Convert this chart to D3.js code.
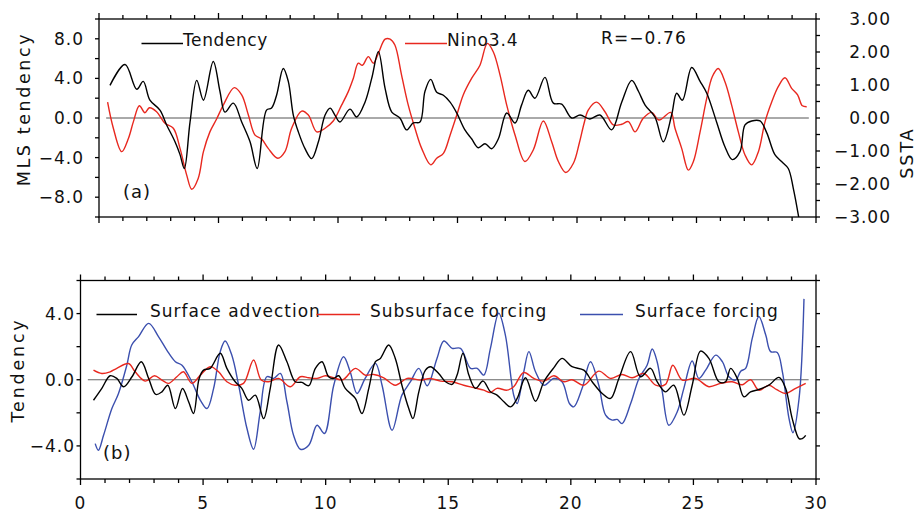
<!DOCTYPE html>
<html><head><meta charset="utf-8">
<script src="https://cdn.jsdelivr.net/npm/d3@7/dist/d3.min.js"></script>
<style>
body{margin:0;background:#fff;}
svg{display:block;font-family:"DejaVu Sans",sans-serif;}
</style></head>
<body><svg id="c" width="916" height="514"></svg>
<script>
// ---------- data ----------
const tendency = [[0.46,3.3],[1.09,5.4],[1.58,2.9],[1.85,3.7],[2.13,1.8],[2.55,0.8],[2.83,-0.7],[3.18,-2.4],[3.39,-3.7],[3.57,-5.1],[3.81,-0.4],[4.09,3.8],[4.37,1.8],[4.78,5.7],[5.06,2.7],[5.27,0.6],[5.62,1.5],[5.97,-0.4],[6.32,-2.4],[6.62,-5.1],[7.01,0.8],[7.22,1.0],[7.43,2.3],[7.71,5.0],[7.92,3.7],[8.13,0.3],[8.34,-1.4],[8.62,-3.1],[8.90,-4.1],[9.18,-2.4],[9.46,0.3],[9.67,1.0],[9.87,0.3],[10.08,-0.4],[10.5,0.9],[10.78,0.1],[11.13,1.6],[11.41,4.0],[11.69,6.7],[11.97,3.0],[12.25,0.6],[12.59,0],[12.87,-1.2],[13.15,-0.5],[13.43,-0.4],[13.64,2.7],[13.88,3.9],[14.13,2.6],[14.41,2.3],[14.69,1.6],[14.97,0.5],[15.31,-1.2],[15.59,-2.1],[15.87,-3.0],[16.15,-2.6],[16.43,-3.1],[16.71,-2.1],[17.06,0.5],[17.41,-0.5],[17.68,1.3],[17.96,2.8],[18.24,2.0],[18.66,4.1],[19.01,1.5],[19.36,1.4],[19.78,0],[20.13,0.3],[20.54,-0.1],[20.96,0.3],[21.45,-1.2],[21.87,1.6],[22.29,3.8],[22.57,2.7],[22.85,1.3],[23.26,0.1],[23.61,-2.4],[23.96,0.3],[24.17,2.5],[24.41,1.8],[24.80,5.1],[25.15,3.7],[25.43,2.5],[25.84,-0.4],[26.19,-2.9],[26.5,-4.2],[26.82,-3.4],[27.03,-0.7],[27.31,-0.3],[27.66,-0.3],[27.94,-1.5],[28.28,-3.7],[28.56,-4.4],[28.84,-5.1],[29.05,-7.1],[29.29,-10.2]];
const nino34 = [[0.36,0.48],[0.6,-0.31],[0.95,-1.02],[1.23,-0.62],[1.44,-0.11],[1.69,0.37],[1.92,0.16],[2.11,0.31],[2.41,0.19],[2.76,-0.16],[3.11,-0.31],[3.39,-0.92],[3.67,-1.73],[3.88,-2.16],[4.15,-1.83],[4.37,-1.02],[4.64,-0.42],[4.92,-0.03],[5.2,0.39],[5.66,0.92],[5.97,0.7],[6.25,0.09],[6.53,-0.52],[6.81,-0.64],[7.08,-0.92],[7.48,-1.22],[7.78,-1.02],[8.06,-0.31],[8.48,0.21],[8.76,0.09],[9.11,-0.42],[9.46,-0.31],[9.80,-0.09],[10.15,0.39],[10.43,0.80],[10.64,1.2],[10.85,1.66],[11.02,1.6],[11.27,1.86],[11.48,1.66],[11.69,1.96],[11.97,2.39],[12.18,2.39],[12.38,2.21],[12.66,1.30],[12.94,0.39],[13.22,-0.31],[13.5,-0.92],[13.88,-1.42],[14.13,-1.22],[14.41,-1.07],[14.69,-0.52],[14.97,0.09],[15.24,0.70],[15.59,1.2],[15.94,1.6],[16.25,2.26],[16.5,2.0],[16.78,1.30],[17.06,0.39],[17.41,-0.52],[17.82,-1.32],[18.17,-0.97],[18.59,-0.09],[18.94,-0.72],[19.22,-1.32],[19.53,-1.65],[19.85,-1.37],[20.1,-0.75],[20.3,-0.15],[20.47,0.24],[20.82,0.48],[21.17,0.19],[21.52,-0.21],[21.87,-0.19],[22.15,-0.11],[22.43,-0.42],[22.77,-0.01],[23.12,0.17],[23.43,-0.06],[23.92,0.17],[24.1,-0.31],[24.38,-0.92],[24.66,-1.58],[24.87,-1.32],[25.15,-0.42],[25.43,0.6],[25.66,1.25],[25.91,1.5],[26.19,1.1],[26.47,0.39],[26.75,-0.42],[27.03,-1.12],[27.31,-1.42],[27.59,-1.02],[27.87,-0.11],[28.15,0.49],[28.42,0.95],[28.7,1.22],[28.98,0.9],[29.23,0.7],[29.43,0.37],[29.61,0.34]];
const surfAdv = [[0.53,-1.24],[0.87,-0.52],[1.21,0.24],[1.48,0.08],[1.76,-0.42],[2.1,0.18],[2.48,1.09],[2.78,0.08],[3.07,-0.89],[3.32,-0.73],[3.56,-0.33],[3.87,-1.74],[4.16,-0.53],[4.41,-1.33],[4.61,-2.04],[4.84,0.08],[5.02,0.58],[5.29,0.69],[5.7,1.6],[5.97,0.69],[6.31,-0.12],[6.58,-0.52],[6.86,-1.24],[7.13,-0.93],[7.47,-2.35],[7.74,-0.52],[8.08,2.1],[8.42,1.09],[8.76,-0.12],[9.03,-0.16],[9.31,-0.36],[9.58,0.69],[9.85,1.09],[10.12,0.18],[10.33,0.08],[10.53,0.24],[10.8,-0.52],[11.21,-1.13],[11.48,-2.04],[11.76,-0.52],[12.03,1.09],[12.23,1.29],[12.57,2.1],[12.84,1.29],[13.11,-0.33],[13.39,-1.74],[13.56,-2.35],[13.8,-0.73],[14.07,0.58],[14.27,0.79],[14.61,0.38],[14.89,-0.12],[15.16,-0.28],[15.36,0.28],[15.6,1.6],[15.84,0.28],[16.11,-0.52],[16.42,-0.08],[16.72,-0.73],[16.99,-0.93],[17.27,-1.33],[17.54,-1.64],[17.81,-1.13],[18.15,0.12],[18.56,-1.3],[18.9,-0.12],[19.31,0.73],[19.64,1.29],[20.05,0.79],[20.53,0.58],[20.87,-0.12],[21.28,-0.83],[21.62,-1.13],[21.96,0.08],[22.44,1.7],[22.84,0.18],[23.25,0.69],[23.52,-0.12],[23.86,-0.73],[24.2,-0.33],[24.61,-2.14],[24.95,-0.33],[25.29,1.73],[25.63,1.29],[26.04,-0.12],[26.31,-0.12],[26.52,0.69],[26.79,0.08],[27.06,-1.03],[27.33,-0.73],[27.67,-0.59],[28.08,-0.33],[28.49,0.14],[28.76,-0.52],[29.03,-2.35],[29.31,-3.56],[29.44,-3.56],[29.58,-3.36]];
const subForcing = [[0.53,0.58],[0.87,0.38],[1.21,0.48],[1.48,0.69],[1.96,0.98],[2.23,0.48],[2.64,-0.08],[3.02,0.24],[3.32,-0.02],[3.59,-0.22],[3.93,0.18],[4.2,0.48],[4.54,-0.22],[4.89,0.28],[5.29,0.79],[5.63,0.48],[5.97,-0.12],[6.31,-0.33],[6.65,-0.22],[7.06,1.19],[7.37,-0.02],[7.67,-0.12],[8.08,0.08],[8.56,-0.42],[8.97,0.18],[9.31,0.12],[9.65,0.08],[9.99,0.24],[10.33,0.12],[10.7,0.0],[11.21,0.69],[11.61,0.28],[11.96,0.32],[12.37,0.12],[12.84,-0.33],[13.32,0.08],[13.87,-0.02],[14.27,0.08],[14.68,-0.08],[15.16,-0.12],[15.63,-0.33],[16.04,-0.48],[16.45,-0.63],[16.72,-0.77],[16.99,-0.52],[17.4,-0.63],[17.67,-0.42],[18.08,0.44],[18.49,0.08],[18.9,-0.08],[19.31,0.24],[19.71,-0.12],[20.05,0],[20.53,-0.33],[21.14,0.52],[21.62,0.08],[22.09,0.32],[22.5,0.12],[22.98,0.38],[23.46,-0.33],[23.86,-0.28],[24.16,0.88],[24.54,-0.02],[25.09,0.08],[25.63,-0.42],[26.11,-0.22],[26.58,-0.12],[27.0,-0.3],[27.33,0],[27.67,-0.63],[28.08,-0.33],[28.4,-0.6],[28.76,-0.83],[29.17,-0.52],[29.58,-0.22]];
const surfForcing = [[0.6,-3.86],[0.73,-4.26],[0.94,-3.36],[1.28,-1.74],[1.55,-0.83],[1.89,0.88],[2.09,2.1],[2.37,2.61],[2.78,3.41],[3.18,2.61],[3.52,1.79],[3.87,1.09],[4.14,0.88],[4.54,-0.12],[4.89,-1.24],[5.16,-1.74],[5.43,-0.52],[5.7,1.7],[5.9,2.34],[6.17,1.49],[6.45,-0.33],[6.79,-2.95],[7.06,-4.2],[7.33,-1.94],[7.6,0.18],[7.88,0.08],[8.15,0.38],[8.42,-1.33],[8.69,-3.36],[8.97,-4.2],[9.31,-3.96],[9.65,-2.75],[9.95,-3.25],[10.33,-0.33],[10.73,1.39],[11.0,0.48],[11.28,-0.83],[11.61,0.08],[12.03,0.99],[12.3,-0.33],[12.71,-3.05],[13.11,-0.93],[13.46,-0.12],[13.8,0.69],[14.14,-0.36],[14.54,1.29],[14.82,2.34],[15.16,1.9],[15.5,1.9],[15.91,0.69],[16.18,0.69],[16.45,0.28],[16.72,1.9],[17.06,4.02],[17.33,2.7],[17.67,-0.93],[17.81,-1.44],[18.08,0.48],[18.29,1.7],[18.56,0.48],[18.9,-0.33],[19.31,0.08],[19.64,-0.12],[19.95,-1.45],[20.12,-1.64],[20.46,-0.52],[20.8,1.09],[21.14,-0.33],[21.42,-2.14],[21.69,-2.44],[21.89,-2.4],[22.09,-2.65],[22.44,-1.44],[22.78,0.08],[23.11,0.88],[23.32,1.86],[23.52,1.09],[23.73,-0.73],[24.0,-2.75],[24.34,-1.94],[24.61,-0.52],[24.95,1.13],[25.22,0.08],[25.5,0.58],[25.91,1.49],[26.18,1.09],[26.45,0.18],[26.72,-0.02],[26.93,0.52],[27.13,0.69],[27.4,2.5],[27.67,3.82],[27.95,2.7],[28.15,1.7],[28.42,1.65],[28.63,0.48],[28.9,-2.35],[29.06,-3.2],[29.31,-1.13],[29.51,4.89]];

const topLeftTicks = [-8, -4, 0, 4, 8];
const topRightTicks = [-3, -2, -1, 0, 1, 2, 3];
const botLeftTicks = [-4, 0, 4];
const xTickLabels = [0, 5, 10, 15, 20, 25, 30];
const legendTop = ["Tendency", "Nino3.4"];
const legendBot = ["Surface advection", "Subsurface forcing", "Surface forcing"];
const corrText = "R=\u22120.76";

// ---------- setup ----------
const svg = d3.select("#c");
const RED = "#e8281f", BLUE = "#3b4fae", BLACK = "#000";
const fmt1 = d => (d < 0 ? "\u2212" : "") + Math.abs(d).toFixed(1);
const fmt2 = d => (d < 0 ? "\u2212" : "") + Math.abs(d).toFixed(2);

// panel (a)
const xa = d3.scaleLinear().domain([0, 30]).range([99, 816]);
const ya = d3.scaleLinear().domain([-10, 10]).range([217, 19]);
const ya2 = d3.scaleLinear().domain([-3, 3]).range([217, 19]);
// panel (b)
const xb = d3.scaleLinear().domain([0, 30]).range([80.5, 816]);
const yb = d3.scaleLinear().domain([-6, 6]).range([479, 280.5]);

const defs = svg.append("defs");
defs.append("clipPath").attr("id", "ca").append("rect")
  .attr("x", xa(0)).attr("y", ya(10)).attr("width", xa(30) - xa(0)).attr("height", ya(-10) - ya(10));
defs.append("clipPath").attr("id", "cb").append("rect")
  .attr("x", xb(0)).attr("y", yb(6)).attr("width", xb(30) - xb(0)).attr("height", yb(-6) - yb(6));

function xTicks(g, x, y0, y1) {
  d3.range(0, 31).forEach(i => {
    const len = (i % 5 === 0) ? 6 : 4;
    g.append("line").attr("x1", x(i)).attr("x2", x(i)).attr("y1", y0).attr("y2", y0 + len);
    g.append("line").attr("x1", x(i)).attr("x2", x(i)).attr("y1", y1).attr("y2", y1 - len);
  });
}

function frame(x, y) {
  const g = svg.append("g").attr("stroke", "#000").attr("stroke-width", 1.3);
  g.append("rect").attr("x", x(0)).attr("y", y.range()[1]).attr("width", x(30) - x(0))
    .attr("height", y.range()[0] - y.range()[1]).attr("fill", "none");
  return g;
}

const lineGen = (x, y) => d3.line().x(d => x(d[0])).y(d => y(d[1])).curve(d3.curveCatmullRom.alpha(0.5));

// ---- panel (a) ----
const fa = frame(xa, ya);
xTicks(fa, xa, ya(-10), ya(10));
d3.range(-10, 10.01, 2).forEach(v => fa.append("line").attr("x1", xa(0)).attr("x2", xa(0) - 4).attr("y1", ya(v)).attr("y2", ya(v)));
d3.range(-3, 3.01, 0.5).forEach(v => fa.append("line").attr("x1", xa(30)).attr("x2", xa(30) + 4).attr("y1", ya2(v)).attr("y2", ya2(v)));

svg.append("line").attr("x1", xa(0.3)).attr("x2", xa(29.7)).attr("y1", ya(0)).attr("y2", ya(0))
  .attr("stroke", "#555").attr("stroke-width", 1);

const pa = svg.append("g").attr("clip-path", "url(#ca)").attr("fill", "none").attr("stroke-width", 1.4);
pa.append("path").datum(nino34).attr("d", lineGen(xa, ya2)).attr("stroke", RED);
pa.append("path").datum(tendency).attr("d", lineGen(xa, ya)).attr("stroke", BLACK);

const ta = svg.append("g").attr("font-size", 17).attr("fill", "#111");
topLeftTicks.forEach(v => ta.append("text").attr("x", 84).attr("y", ya(v) + 6).attr("text-anchor", "end")
  .attr("letter-spacing", 1).text(fmt1(v)));
topRightTicks.forEach(v => ta.append("text").attr("x", 891).attr("y", ya2(v) + 6).attr("text-anchor", "end")
  .attr("letter-spacing", 1).text(fmt2(v)));
ta.append("text").attr("transform", `translate(30,${(ya(10)+ya(-10))/2 - 9}) rotate(-90)`)
  .attr("text-anchor", "middle").attr("letter-spacing", 2.6).attr("font-size", 17.5).text("MLS tendency");
ta.append("text").attr("transform", `translate(913,${ya(0) + 35}) rotate(-90)`)
  .attr("text-anchor", "middle").attr("letter-spacing", 2).attr("font-size", 17.5).text("SSTA");
ta.append("text").attr("x", 123).attr("y", 198).attr("font-size", 18).attr("letter-spacing", 1).text("(a)");

// legend (a)
svg.append("line").attr("x1", 141.5).attr("x2", 183).attr("y1", 43.5).attr("y2", 43.5).attr("stroke", BLACK).attr("stroke-width", 1.4);
ta.append("text").attr("x", 183).attr("y", 46).attr("letter-spacing", 0.6).text(legendTop[0]);
svg.append("line").attr("x1", 405).attr("x2", 447).attr("y1", 43.5).attr("y2", 43.5).attr("stroke", RED).attr("stroke-width", 1.4);
ta.append("text").attr("x", 447).attr("y", 46).attr("letter-spacing", 0.8).text(legendTop[1]);
ta.append("text").attr("x", 601).attr("y", 44).attr("letter-spacing", 1.1).text(corrText);

// ---- panel (b) ----
const fb = frame(xb, yb);
xTicks(fb, xb, yb(-6), yb(6));
d3.range(-6, 6.01, 2).forEach(v => {
  fb.append("line").attr("x1", xb(0)).attr("x2", xb(0) - 4).attr("y1", yb(v)).attr("y2", yb(v));
  fb.append("line").attr("x1", xb(30)).attr("x2", xb(30) + 4).attr("y1", yb(v)).attr("y2", yb(v));
});

svg.append("line").attr("x1", xb(0.3)).attr("x2", xb(29.7)).attr("y1", yb(0)).attr("y2", yb(0))
  .attr("stroke", "#666").attr("stroke-width", 1);

const pb = svg.append("g").attr("clip-path", "url(#cb)").attr("fill", "none").attr("stroke-width", 1.4);
pb.append("path").datum(surfForcing).attr("d", lineGen(xb, yb)).attr("stroke", BLUE);
pb.append("path").datum(subForcing).attr("d", lineGen(xb, yb)).attr("stroke", RED);
pb.append("path").datum(surfAdv).attr("d", lineGen(xb, yb)).attr("stroke", BLACK);

const tb = svg.append("g").attr("font-size", 17).attr("fill", "#111");
botLeftTicks.forEach(v => tb.append("text").attr("x", 75).attr("y", yb(v) + 6).attr("text-anchor", "end")
  .attr("letter-spacing", 1).text(fmt1(v)));
xTickLabels.forEach(v => tb.append("text").attr("x", xb(v)).attr("y", 509).attr("text-anchor", "middle")
  .attr("letter-spacing", 1).text(v));
tb.append("text").attr("transform", `translate(24,370) rotate(-90)`)
  .attr("text-anchor", "middle").attr("letter-spacing", 2.8).attr("font-size", 17.5).text("Tendency");
tb.append("text").attr("x", 103).attr("y", 459).attr("font-size", 18).attr("letter-spacing", 1).text("(b)");

// legend (b)
const lb = [[96.5, 137, 150, BLACK], [316.5, 360, 370, RED], [580, 623, 635, BLUE]];
lb.forEach((L, i) => {
  svg.append("line").attr("x1", L[0]).attr("x2", L[1]).attr("y1", 314.5).attr("y2", 314.5).attr("stroke", L[3]).attr("stroke-width", 1.4);
  tb.append("text").attr("x", L[2]).attr("y", 317).attr("letter-spacing", 1).text(legendBot[i]);
});
</script></body></html>
